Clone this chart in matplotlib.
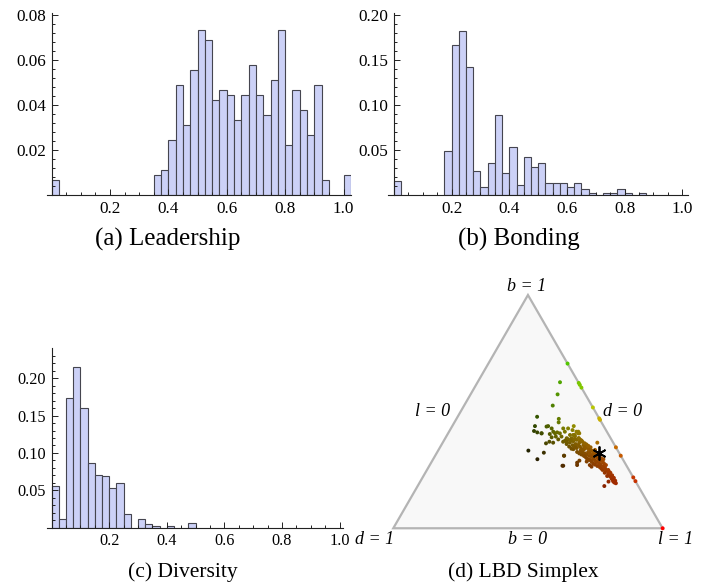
import numpy as np
import matplotlib
matplotlib.use('Agg')
import matplotlib.pyplot as plt
from matplotlib.patches import Polygon

plt.rcParams['font.family'] = ['Liberation Serif', 'DejaVu Serif']

BIN_WIDTH = 0.025

# histogram bins (left edges) and counts per bin
leadership_bins = [0.0, 0.35, 0.375, 0.4, 0.425, 0.45, 0.475, 0.5, 0.525, 0.55, 0.575, 0.6, 0.625,
                   0.65, 0.675, 0.7, 0.725, 0.75, 0.775, 0.8, 0.825, 0.85, 0.875, 0.9, 0.925, 1.0]
leadership_counts = [3, 4, 5, 11, 22, 14, 25, 33, 31, 19, 21, 20, 15,
                     20, 26, 20, 16, 23, 33, 10, 21, 17, 12, 22, 3, 4]

bonding_bins = [0.0, 0.175, 0.2, 0.225, 0.25, 0.275, 0.3, 0.325, 0.35, 0.375, 0.4, 0.425, 0.45, 0.475,
                0.5, 0.525, 0.55, 0.575, 0.6, 0.625, 0.65, 0.675, 0.725, 0.75, 0.775, 0.8, 0.85]
bonding_counts = [7, 22, 75, 82, 64, 12, 4, 16, 40, 11, 24, 5, 19, 14,
                  16, 6, 6, 6, 4, 6, 3, 1, 1, 1, 3, 1, 1]

diversity_bins = [0.0, 0.025, 0.05, 0.075, 0.1, 0.125, 0.15, 0.175, 0.2, 0.225, 0.25,
                  0.3, 0.325, 0.35, 0.4, 0.475]
diversity_counts = [25, 5, 78, 97, 72, 39, 32, 31, 24, 27, 8, 5, 2, 1, 1, 3]

# simplex points as (l, b); d = 1 - l - b
edge_l = [0.294, 0.377, 0.385, 0.397, 0.482, 0.529, 0.535, 0.653, 0.689, 0.782, 0.798, 1.0]
edge_b = [0.706, 0.623, 0.615, 0.603, 0.518, 0.471, 0.465, 0.347, 0.311, 0.218, 0.202, 0.0]

sparse_l = [0.306, 0.323, 0.329, 0.295, 0.380, 0.387, 0.307, 0.314, 0.347, 0.335, 0.387, 0.397,
            0.497, 0.479, 0.547, 0.546, 0.693, 0.574, 0.478, 0.494, 0.542, 0.385]
sparse_b = [0.626, 0.574, 0.526, 0.478, 0.469, 0.454, 0.438, 0.417, 0.407, 0.333, 0.296, 0.324,
            0.268, 0.311, 0.271, 0.290, 0.181, 0.367, 0.311, 0.268, 0.281, 0.364]

olive_l = [0.329, 0.347, 0.351, 0.356, 0.374, 0.387, 0.379, 0.397, 0.403, 0.415, 0.407, 0.393,
           0.394, 0.410, 0.422, 0.428, 0.430, 0.435, 0.451, 0.473, 0.487, 0.474, 0.456, 0.451,
           0.471, 0.445, 0.455, 0.417, 0.480, 0.504, 0.500]
olive_b = [0.411, 0.407, 0.436, 0.438, 0.428, 0.414, 0.404, 0.407, 0.411, 0.407, 0.393, 0.390,
           0.371, 0.367, 0.381, 0.393, 0.414, 0.428, 0.438, 0.414, 0.407, 0.400, 0.400, 0.386,
           0.381, 0.371, 0.421, 0.428, 0.414, 0.379, 0.357]

band_l = [0.450, 0.459, 0.469, 0.478, 0.463, 0.472, 0.482, 0.491, 0.502, 0.478, 0.488, 0.497,
          0.507, 0.518, 0.499, 0.509, 0.518, 0.528, 0.538, 0.519, 0.529, 0.539, 0.548, 0.559,
          0.541, 0.551, 0.560, 0.570, 0.581, 0.563, 0.573, 0.582, 0.592, 0.584, 0.593, 0.603,
          0.615, 0.603, 0.613, 0.622, 0.632, 0.624, 0.633, 0.643, 0.645, 0.655, 0.668, 0.680,
          0.692, 0.704, 0.716, 0.723, 0.654, 0.634, 0.483, 0.468, 0.594, 0.575, 0.604, 0.578,
          0.673, 0.687, 0.699, 0.711, 0.722, 0.699, 0.682, 0.666, 0.652,
          0.458, 0.471, 0.482, 0.495, 0.511, 0.529, 0.548, 0.509, 0.501, 0.491, 0.528, 0.538,
          0.560, 0.530, 0.539, 0.560, 0.569, 0.579, 0.553, 0.571, 0.583, 0.592, 0.605, 0.593,
          0.604, 0.613, 0.624, 0.612, 0.625, 0.647, 0.637, 0.661, 0.679, 0.697, 0.711, 0.722, 0.730]
band_b = [0.376, 0.381, 0.386, 0.393, 0.361, 0.367, 0.373, 0.379, 0.381, 0.350, 0.356, 0.361,
          0.367, 0.370, 0.339, 0.344, 0.350, 0.356, 0.359, 0.327, 0.333, 0.339, 0.344, 0.347,
          0.316, 0.321, 0.327, 0.333, 0.336, 0.304, 0.310, 0.316, 0.321, 0.293, 0.298, 0.304,
          0.304, 0.278, 0.284, 0.290, 0.296, 0.267, 0.273, 0.278, 0.256, 0.261, 0.247, 0.236,
          0.224, 0.213, 0.201, 0.196, 0.271, 0.286, 0.407, 0.400, 0.271, 0.286, 0.264, 0.293,
          0.250, 0.238, 0.227, 0.216, 0.204, 0.200, 0.224, 0.238, 0.250,
          0.371, 0.376, 0.381, 0.387, 0.376, 0.364, 0.353, 0.356, 0.347, 0.341, 0.341, 0.347,
          0.336, 0.321, 0.327, 0.316, 0.321, 0.327, 0.310, 0.298, 0.307, 0.313, 0.313, 0.286,
          0.290, 0.296, 0.298, 0.273, 0.278, 0.264, 0.261, 0.253, 0.243, 0.221, 0.207, 0.198, 0.193]

mean_l, mean_b = 0.604, 0.321

BAR_FACE = (0.80, 0.82, 0.97)
BAR_EDGE = '#45454f'

fig = plt.figure(figsize=(7.09, 5.86), dpi=100)


def draw_hist(rect, bins, counts, xlim, ylim, ymajor, yminor, fs):
    ax = fig.add_axes(rect)
    probs = np.array(counts) / np.sum(counts)
    ax.bar(bins, probs, width=BIN_WIDTH, align='edge', color=BAR_FACE,
           edgecolor=BAR_EDGE, linewidth=0.8)
    ax.set_xlim(xlim)
    ax.set_ylim(ylim)
    ax.spines['left'].set_position(('data', 0))
    ax.spines['top'].set_visible(False)
    ax.spines['right'].set_visible(False)
    for s in ['left', 'bottom']:
        ax.spines[s].set_linewidth(0.8)
        ax.spines[s].set_color('#222222')
    xt = [0.2, 0.4, 0.6, 0.8, 1.0]
    ax.set_xticks(xt)
    ax.set_xticklabels(['%.1f' % v for v in xt])
    ax.set_xticks(np.arange(0.05, 1.0, 0.05), minor=True)
    yt = np.arange(ymajor, ylim[1] + 1e-9, ymajor)
    ax.set_yticks(yt)
    ax.set_yticklabels(['%.2f' % v for v in yt])
    ax.set_yticks(np.arange(yminor, ylim[1], yminor), minor=True)
    ax.tick_params(which='both', direction='in', labelsize=fs, width=0.7, color='#222222', pad=4)
    ax.tick_params(which='major', length=4)
    ax.tick_params(which='minor', length=2)
    ax.patch.set_alpha(0)
    return ax


draw_hist([0.0657, 0.6672, 0.4292, 0.311], leadership_bins, leadership_counts,
          (-0.017, 1.025), (0, 0.081), 0.02, 0.004, 12.3)
draw_hist([0.5475, 0.6672, 0.423, 0.3102], bonding_bins, bonding_counts,
          (-0.02, 1.02), (0, 0.202), 0.05, 0.01, 12.3)
draw_hist([0.066, 0.0995, 0.4183, 0.3061], diversity_bins, diversity_counts,
          (-0.017, 1.013), (0, 0.24), 0.05, 0.01, 11.7)

# LBD simplex
ax = fig.add_axes([0.4977, 0.05256, 0.4939, 0.5056])
ax.set_xlim(-0.15, 1.15)
ax.set_ylim(-0.1, 1.0)
ax.axis('off')

H = np.sqrt(3) / 2


def project(l, b):
    l = np.asarray(l, dtype=float)
    b = np.asarray(b, dtype=float)
    return l + b / 2, b * H


corner_l = [0.0, 1.0, 0.0]
corner_b = [0.0, 0.0, 1.0]
cx, cy = project(corner_l, corner_b)
ax.add_patch(Polygon(np.column_stack([cx, cy]), closed=True, facecolor='#f8f8f8',
                     edgecolor='#b4b4b4', linewidth=1.6, zorder=1))

all_l = np.array(edge_l + sparse_l + olive_l + band_l)
all_b = np.array(edge_b + sparse_b + olive_b + band_b)
all_d = 1 - all_l - all_b
# hue from the l:b ratio, darker as d grows
top = np.maximum(all_l, all_b)
shade = 0.78 * np.clip(1 - 2.5 * all_d, 0, 1)
cols = np.column_stack([all_l / top * shade, all_b / top * shade, np.zeros_like(all_l)])
cols[all_l >= 0.999] = [1.0, 0.0, 0.0]
px, py = project(all_l, all_b)
ax.scatter(px, py, s=8, c=cols, linewidths=0, zorder=3, clip_on=False)

mx, my = project(mean_l, mean_b)
ax.plot([mx], [my], marker=(6, 2, 0), markersize=10, color='black', mew=1.3, zorder=4)

lab = dict(fontsize=13, fontstyle='italic', ha='center', va='center')
ax.text(0.496, 0.896, 'b = 1', **lab)
ax.text(0.144, 0.433, 'l = 0', **lab)
ax.text(0.853, 0.433, 'd = 0', **lab)
ax.text(0.498, -0.040, 'b = 0', **lab)
ax.text(-0.068, -0.040, 'd = 1', **lab)
ax.text(1.049, -0.040, 'l = 1', **lab)

cap_top = dict(fontsize=18, ha='center', va='center')
cap_bot = dict(fontsize=15.5, ha='center', va='center')
fig.text(167.5 / 709, 1 - 239 / 586, '(a) Leadership', **cap_top)
fig.text(519 / 709, 1 - 239 / 586, '(b) Bonding', **cap_top)
fig.text(182.5 / 709, 1 - 571.7 / 586, '(c) Diversity', **cap_bot)
fig.text(523.3 / 709, 1 - 571.7 / 586, '(d) LBD Simplex', **cap_bot)

plt.savefig('out.png', dpi=100)
